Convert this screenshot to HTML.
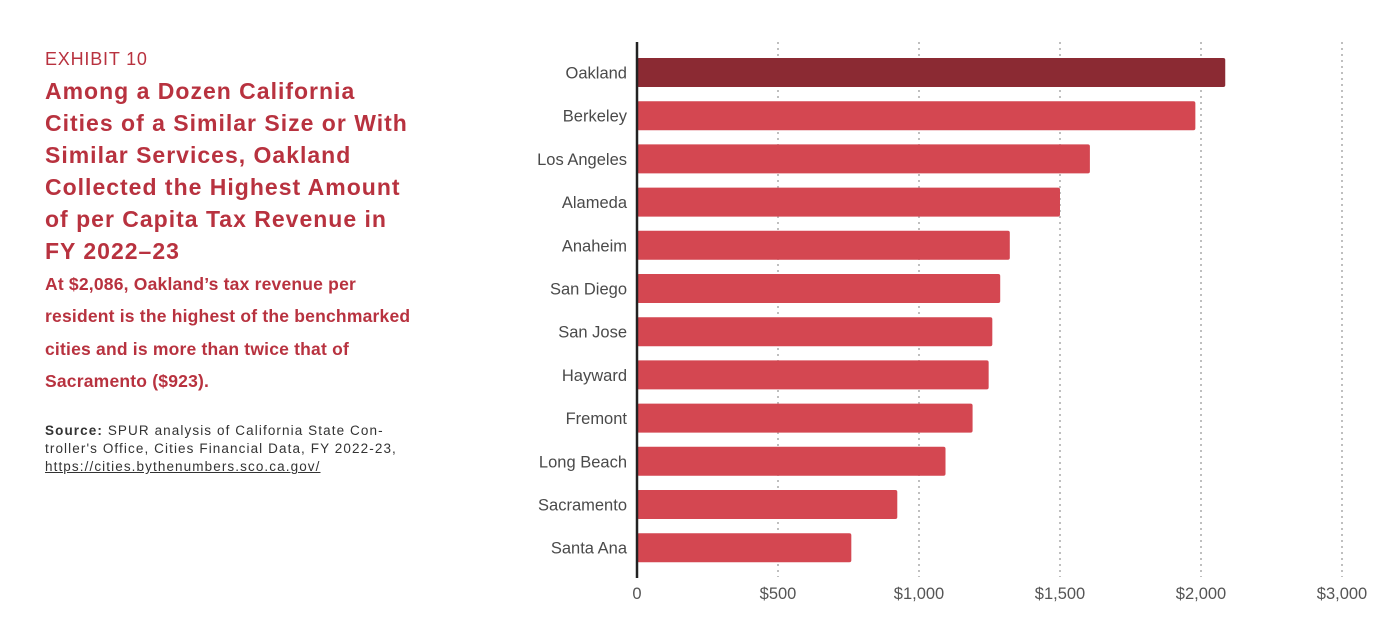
<!DOCTYPE html>
<html><head><meta charset="utf-8"><style>
body{margin:0;width:1390px;height:626px;background:#fff;overflow:hidden;font-family:"Liberation Sans",sans-serif;position:relative}
.c{color:#b8323f;position:absolute;left:45px;white-space:nowrap}
#ex{top:49px;font-size:18px;letter-spacing:0.8px}
#title{top:75px;font-size:23px;font-weight:bold;line-height:32px;letter-spacing:1px}
#sub{top:268px;font-size:17.5px;font-weight:bold;line-height:32.3px;letter-spacing:0.2px}
#src{position:absolute;left:45px;top:422px;font-size:13.5px;line-height:18px;color:#333;white-space:nowrap;letter-spacing:1.1px}
#src a{color:#333}
</style></head><body>
<div class="c" id="ex">EXHIBIT 10</div>
<div class="c" id="title">Among a Dozen California<br>Cities of a Similar Size or With<br>Similar Services, Oakland<br>Collected the Highest Amount<br>of per Capita Tax Revenue in<br>FY 2022–23</div>
<div class="c" id="sub">At $2,086, Oakland’s tax revenue per<br>resident is the highest of the benchmarked<br>cities and is more than twice that of<br>Sacramento ($923).</div>
<div id="src"><b>Source:</b> SPUR analysis of California State Con-<br>troller's Office, Cities Financial Data, FY 2022-23,<br><a href="#">https://cities.bythenumbers.sco.ca.gov/</a></div>
<svg id="chart" width="1390" height="626" style="position:absolute;left:0;top:0"></svg>
<script>
const categories=["Oakland","Berkeley","Los Angeles","Alameda","Anaheim","San Diego","San Jose","Hayward","Fremont","Long Beach","Sacramento","Santa Ana"];
const values=[2086,1980,1606,1500,1322,1288,1260,1247,1190,1094,923,760];
const tickValues=[0,500,1000,1500,2000,2500];
const tickLabels=["0","$500","$1,000","$1,500","$2,000","$3,000"];
const NS="http://www.w3.org/2000/svg";
const svg=document.getElementById('chart');
const x0=637,pxPer=141/500,y0=58,step=43.2,bh=29;
const xs=v=>x0+v*pxPer, ys=i=>y0+i*step;
function mk(t,a){const e=document.createElementNS(NS,t);for(const k in a)e.setAttribute(k,a[k]);svg.appendChild(e);return e;}
tickValues.forEach((v,i)=>{
 if(v>0){const g=mk('line',{x1:xs(v),x2:xs(v),y1:42,y2:577,stroke:'#aaa','stroke-width':1.5,'stroke-dasharray':'2,4'});
 
 }
 const t=mk('text',{x:xs(v),y:599,'text-anchor':'middle','font-size':16.5,fill:'#555','font-family':'Liberation Sans, sans-serif'});
 t.textContent=tickLabels[i];
 
 
});
categories.forEach((c,i)=>{
 const r=mk('rect',{x:x0,y:ys(i),width:xs(values[i])-x0,height:bh,rx:2,fill:i===0?'#8b2a33':'#d44751'});
 
 
 const t=mk('text',{x:627,y:ys(i)+bh/2+6,'text-anchor':'end','font-size':16.5,fill:'#4a4a4a','font-family':'Liberation Sans, sans-serif'});
 t.textContent=c;
 
 
});
const ax=mk('line',{x1:x0,x2:x0,y1:42,y2:578,stroke:'#222','stroke-width':2.5});


</script>
</body></html>
